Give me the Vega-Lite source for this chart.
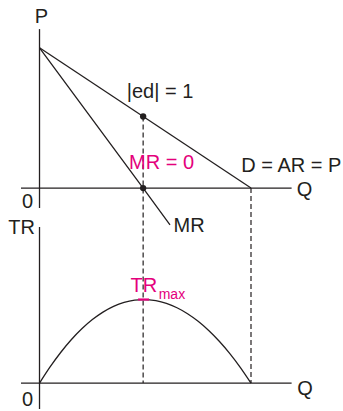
{
  "$schema": "https://vega.github.io/schema/vega-lite/v6.json",
  "width": 343,
  "height": 411,
  "autosize": {"type": "fit", "contains": "padding"},
  "padding": 0,
  "background": "white",
  "config": {
    "view": {"stroke": null},
    "text": {"font": "Liberation Sans", "fontSize": 20, "color": "#231f20", "baseline": "alphabetic", "align": "center"}
  },
  "datasets": {
    "topAxes": [
      {"x1": 0, "x2": 0, "y1": 11.33, "y2": -1.42},
      {"x1": -0.875, "x2": 11.92, "y1": 0, "y2": 0}
    ],
    "curves": [
      {"curve": "D", "Q": 0, "P": 10},
      {"curve": "D", "Q": 10, "P": 0},
      {"curve": "MR", "Q": 0, "P": 10},
      {"curve": "MR", "Q": 4.9, "P": 0},
      {"curve": "MR", "Q": 6.17, "P": -2.62}
    ],
    "guides": [
      {"Q": 4.9, "P1": 5.1, "P2": -13.9},
      {"Q": 10, "P1": 0, "P2": -13.9}
    ],
    "dots": [
      {"Q": 4.9, "P": 5.1},
      {"Q": 4.9, "P": 0}
    ],
    "topLabels": [
      {"label": "P", "Q": 0.09, "P": 11.79},
      {"label": "|ed| = 1", "Q": 5.7, "P": 6.42},
      {"label": "D = AR = P", "Q": 11.91, "P": 1.13},
      {"label": "Q", "Q": 12.53, "P": -0.6},
      {"label": "0", "Q": -0.567, "P": -1.42},
      {"label": "MR", "Q": 7.07, "P": -3.12}
    ],
    "topMagenta": [
      {"label": "MR = 0", "Q": 5.77, "P": 1.35}
    ],
    "bottomAxes": [
      {"x1": 0, "x2": 0, "y1": 46.7, "y2": -7.74},
      {"x1": -0.875, "x2": 11.92, "y1": 0, "y2": 0}
    ],
    "tr": [
      {"Q": 0, "TR": 0},
      {"Q": 0.5, "TR": 4.84},
      {"Q": 1, "TR": 9.16},
      {"Q": 1.5, "TR": 12.96},
      {"Q": 2, "TR": 16.24},
      {"Q": 2.5, "TR": 19.0},
      {"Q": 3, "TR": 21.24},
      {"Q": 3.5, "TR": 22.96},
      {"Q": 4, "TR": 24.16},
      {"Q": 4.5, "TR": 24.83},
      {"Q": 4.9, "TR": 25},
      {"Q": 5.5, "TR": 24.65},
      {"Q": 6, "TR": 23.84},
      {"Q": 6.5, "TR": 22.54},
      {"Q": 7, "TR": 20.76},
      {"Q": 7.5, "TR": 18.5},
      {"Q": 8, "TR": 15.76},
      {"Q": 8.5, "TR": 12.54},
      {"Q": 9, "TR": 8.84},
      {"Q": 9.5, "TR": 4.66},
      {"Q": 10, "TR": 0}
    ],
    "maxTick": [
      {"Q1": 4.66, "Q2": 5.18, "TR": 25}
    ],
    "bottomLabels": [
      {"label": "TR", "Q": -0.851, "TR": 44.64},
      {"label": "Q", "Q": 12.55, "TR": -3.48},
      {"label": "0", "Q": -0.567, "TR": -6.85}
    ],
    "trMain": [
      {"label": "TR", "Q": 4.93, "TR": 27.38}
    ],
    "trSub": [
      {"label": "max", "Q": 6.26, "TR": 25.3}
    ]
  },
  "resolve": {"scale": {"y": "independent"}},
  "layer": [
    {
      "layer": [
        {
          "data": {"name": "topAxes"},
          "mark": {"type": "rule", "color": "#231f20", "strokeWidth": 1.3},
          "encoding": {
            "x": {"field": "x1", "type": "quantitative", "scale": {"domain": [-1.868, 14.35], "nice": false, "zero": false}, "axis": null},
            "x2": {"field": "x2"},
            "y": {"field": "y1", "type": "quantitative", "scale": {"domain": [-15.745, 13.404], "nice": false, "zero": false}, "axis": null},
            "y2": {"field": "y2"}
          }
        },
        {
          "data": {"name": "guides"},
          "mark": {"type": "rule", "color": "#231f20", "strokeWidth": 1.2, "strokeDash": [5, 3]},
          "encoding": {
            "x": {"field": "Q", "type": "quantitative", "scale": {"domain": [-1.868, 14.35], "nice": false, "zero": false}, "axis": null},
            "y": {"field": "P1", "type": "quantitative", "scale": {"domain": [-15.745, 13.404], "nice": false, "zero": false}, "axis": null},
            "y2": {"field": "P2"}
          }
        },
        {
          "data": {"name": "curves"},
          "mark": {"type": "line", "color": "#231f20", "strokeWidth": 1.3},
          "encoding": {
            "x": {"field": "Q", "type": "quantitative", "scale": {"domain": [-1.868, 14.35], "nice": false, "zero": false}, "axis": null},
            "y": {"field": "P", "type": "quantitative", "scale": {"domain": [-15.745, 13.404], "nice": false, "zero": false}, "axis": null},
            "detail": {"field": "curve"},
            "order": {"field": "Q"}
          }
        },
        {
          "data": {"name": "dots"},
          "mark": {"type": "circle", "color": "#231f20", "opacity": 1, "size": 40},
          "encoding": {
            "x": {"field": "Q", "type": "quantitative", "scale": {"domain": [-1.868, 14.35], "nice": false, "zero": false}, "axis": null},
            "y": {"field": "P", "type": "quantitative", "scale": {"domain": [-15.745, 13.404], "nice": false, "zero": false}, "axis": null}
          }
        },
        {
          "data": {"name": "topLabels"},
          "mark": {"type": "text"},
          "encoding": {
            "x": {"field": "Q", "type": "quantitative", "scale": {"domain": [-1.868, 14.35], "nice": false, "zero": false}, "axis": null},
            "y": {"field": "P", "type": "quantitative", "scale": {"domain": [-15.745, 13.404], "nice": false, "zero": false}, "axis": null},
            "text": {"field": "label"}
          }
        },
        {
          "data": {"name": "topMagenta"},
          "mark": {"type": "text", "color": "#e4007c"},
          "encoding": {
            "x": {"field": "Q", "type": "quantitative", "scale": {"domain": [-1.868, 14.35], "nice": false, "zero": false}, "axis": null},
            "y": {"field": "P", "type": "quantitative", "scale": {"domain": [-15.745, 13.404], "nice": false, "zero": false}, "axis": null},
            "text": {"field": "label"}
          }
        }
      ]
    },
    {
      "layer": [
        {
          "data": {"name": "bottomAxes"},
          "mark": {"type": "rule", "color": "#231f20", "strokeWidth": 1.3},
          "encoding": {
            "x": {"field": "x1", "type": "quantitative", "scale": {"domain": [-1.868, 14.35], "nice": false, "zero": false}, "axis": null},
            "x2": {"field": "x2"},
            "y": {"field": "y1", "type": "quantitative", "scale": {"domain": [-7.738, 114.58], "nice": false, "zero": false}, "axis": null},
            "y2": {"field": "y2"}
          }
        },
        {
          "data": {"name": "tr"},
          "mark": {"type": "line", "color": "#231f20", "strokeWidth": 1.3, "interpolate": "monotone"},
          "encoding": {
            "x": {"field": "Q", "type": "quantitative", "scale": {"domain": [-1.868, 14.35], "nice": false, "zero": false}, "axis": null},
            "y": {"field": "TR", "type": "quantitative", "scale": {"domain": [-7.738, 114.58], "nice": false, "zero": false}, "axis": null},
            "order": {"field": "Q"}
          }
        },
        {
          "data": {"name": "maxTick"},
          "mark": {"type": "rule", "color": "#e4007c", "strokeWidth": 2.2},
          "encoding": {
            "x": {"field": "Q1", "type": "quantitative", "scale": {"domain": [-1.868, 14.35], "nice": false, "zero": false}, "axis": null},
            "x2": {"field": "Q2"},
            "y": {"field": "TR", "type": "quantitative", "scale": {"domain": [-7.738, 114.58], "nice": false, "zero": false}, "axis": null}
          }
        },
        {
          "data": {"name": "bottomLabels"},
          "mark": {"type": "text"},
          "encoding": {
            "x": {"field": "Q", "type": "quantitative", "scale": {"domain": [-1.868, 14.35], "nice": false, "zero": false}, "axis": null},
            "y": {"field": "TR", "type": "quantitative", "scale": {"domain": [-7.738, 114.58], "nice": false, "zero": false}, "axis": null},
            "text": {"field": "label"}
          }
        },
        {
          "data": {"name": "trMain"},
          "mark": {"type": "text", "color": "#e4007c"},
          "encoding": {
            "x": {"field": "Q", "type": "quantitative", "scale": {"domain": [-1.868, 14.35], "nice": false, "zero": false}, "axis": null},
            "y": {"field": "TR", "type": "quantitative", "scale": {"domain": [-7.738, 114.58], "nice": false, "zero": false}, "axis": null},
            "text": {"field": "label"}
          }
        },
        {
          "data": {"name": "trSub"},
          "mark": {"type": "text", "color": "#e4007c", "fontSize": 14},
          "encoding": {
            "x": {"field": "Q", "type": "quantitative", "scale": {"domain": [-1.868, 14.35], "nice": false, "zero": false}, "axis": null},
            "y": {"field": "TR", "type": "quantitative", "scale": {"domain": [-7.738, 114.58], "nice": false, "zero": false}, "axis": null},
            "text": {"field": "label"}
          }
        }
      ]
    }
  ]
}
